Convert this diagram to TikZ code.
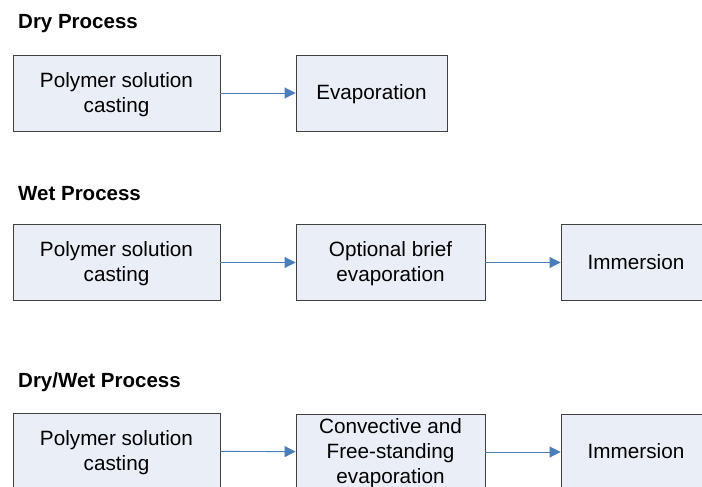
\documentclass[tikz,border=0pt]{standalone}
\usepackage{fontspec}
\setmainfont{Liberation Sans}
\usetikzlibrary{arrows.meta}
\definecolor{boxfill}{HTML}{E9EEF7}
\definecolor{boxline}{HTML}{404040}
\definecolor{arrowblue}{HTML}{4A7EBB}
\begin{document}
\begin{tikzpicture}[x=1pt,y=-1pt,
  procbox/.style={draw=boxline, fill=boxfill, line width=0.9pt, align=center, inner sep=0pt,
    font=\fontsize{20.7}{25}\selectfont, minimum height=76pt, text depth=1.5pt},
  sectitle/.style={font=\bfseries\fontsize{20.5}{25}\selectfont, anchor=west, inner sep=0pt},
  flow/.style={draw=arrowblue, line width=0.9pt, -{Triangle[length=11pt,width=11pt]}}]
\useasboundingbox (0,0) rectangle (702,487);
\clip (0,0) rectangle (702,487);
\fill[white] (0,0) rectangle (702,487);

\node[sectitle] (t1) at (18,24) {Dry Process};
\node[procbox, minimum width=207pt] (d1) at (116.5,93) {Polymer solution\\casting};
\node[procbox, minimum width=151pt] (d2) at (371.5,93) {Evaporation};
\draw[flow] (d1) -- (d2);

\node[sectitle] (t2) at (18,194) {Wet Process};
\node[procbox, minimum width=207pt] (w1) at (116.5,262.5) {Polymer solution\\casting};
\node[procbox, minimum width=189pt] (w2) at (390.5,262.5) {Optional brief\\evaporation};
\node[procbox, minimum width=150pt] (w3) at (636,262.5) {Immersion};
\draw[flow] (w1) -- (w2);
\draw[flow] (w2) -- (w3);

\node[sectitle] (t3) at (18,382) {Dry/Wet Process};
\node[procbox, minimum width=207pt] (dw1) at (116.5,451) {Polymer solution\\casting};
\node[procbox, minimum width=189pt] (dw2) at (390.5,452) {Convective and\\Free-standing\\evaporation};
\node[procbox, minimum width=150pt] (dw3) at (636,452) {Immersion};
\draw[flow] (dw1) -- (dw2);
\draw[flow] (dw2) -- (dw3);
\end{tikzpicture}
\end{document}
